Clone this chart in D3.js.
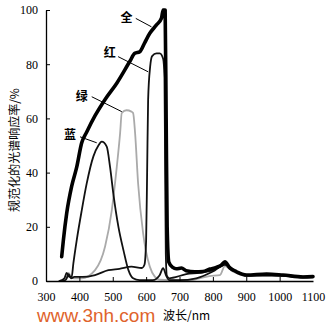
<!DOCTYPE html>
<html><head><meta charset="utf-8">
<script src="https://cdn.jsdelivr.net/npm/d3@7"></script>
<style>body{margin:0;background:#fff}svg{display:block}</style>
</head><body>
<svg id="c" width="332" height="327"></svg>
<script>
// Data
const xTicks = [300,400,500,600,700,800,900,1000,1100];
const yTicks = [0,20,40,60,80,100];

const allNm  = [347,352,362,377,392,407,422,447,477,512,551,566,581,596,611,631,646,651,657,660,663,668,680,690,706,720,746,770,791,810,825,836,850,871,901,961,1010,1070,1100];
const allVal = [9,15,25,35,42,51,55,61,67,73,81,84,84.6,88,91.4,94.5,97,100,100,60,20,7,5,4.5,4.8,3.8,3.4,3.5,4.4,5,5.8,7.1,5,3.4,2.2,2.6,2.2,1.5,1.6];

const redNm  = [350,360,368,375,385,410,447,487,520,556,587,595,600,603,606,612,618,631,641,651,655,657,659,662,670,680,720,760,800,825,836,850,880,900,960,1010,1070,1100];
const redVal = [0,0.5,2.5,1,1.5,1.5,2.2,4,4.5,5.3,4.8,6,15,40,67,79,83,84,84,82,75,40,10,2,1,1.2,2.5,3,4,5.5,6.5,4.5,3,2,2.3,2,1.3,1.4];

const blueNm  = [340,355,362,370,377,382,392,407,422,442,457,467,482,492,502,517,532,547,561,580,620,640,651,660,670,700,750,800,836,870,900,1000,1100];
const blueVal = [0,1,3,1.5,1.6,6.5,15,26,36,46,50,51.4,49.6,42,32,20,11.4,4,1,0.3,0.3,2,4.7,2,0.3,0.3,1,3.5,6,3.5,2,2,1.4];

const greenNm  = [340,360,368,375,385,407,447,477,497,512,522,527,541,556,561,567,576,591,611,626,640,700,731,760,790,821,836,860,900,1000,1100];
const greenVal = [0,1,3,1.5,1,1,4,12.7,26,42,54.5,62,63,62.5,62,54.5,36,17.6,5.3,1.6,0.5,0.3,0.3,1,1.8,2.2,5.5,3.5,2,2,1.4];

const seriesNames = ["全","红","绿","蓝"];
// annotation anchors in data units: label, leader start, leader end
const labelNm  = [541,491,407,372];
const labelVal = [97.5,84.6,68.6,54.6];
const leadFromNm  = [569,516,437,402];
const leadFromVal = [96.9,82.8,68,53.2];
const leadToNm  = [616,606,527,452];
const leadToVal = [93.8,77.2,62.5,51];

const svg = d3.select("#c");
const x = d3.scaleLinear().domain([300,1100]).range([46,313]);
const y = d3.scaleLinear().domain([0,100]).range([281,10]);

const serif = "'Liberation Serif','DejaVu Serif',serif";
const cjk = "'Noto Sans CJK SC','Noto Sans',sans-serif";

const zip = (a,b)=>a.map((v,i)=>[v,b[i]]);
const line = d3.line().x(d=>x(d[0])).y(d=>y(d[1])).curve(d3.curveMonotoneX);

const series = [
  {nm:greenNm, v:greenVal, color:"#aaaaaa", w:1.8},
  {nm:blueNm, v:blueVal, color:"#111", w:1.8},
  {nm:redNm, v:redVal, color:"#111", w:1.8},
  {nm:allNm, v:allVal, color:"#000", w:3.6}
];
svg.selectAll("path.s").data(series).join("path")
  .attr("class","s").attr("fill","none")
  .attr("stroke",d=>d.color).attr("stroke-width",d=>d.w)
  .attr("stroke-linejoin","round").attr("stroke-linecap","round")
  .attr("d",d=>line(zip(d.nm,d.v)));

// axes
const ya = svg.append("g").attr("transform",`translate(${x(300)},0)`)
  .call(d3.axisLeft(y).tickValues(yTicks).tickSize(-4).tickPadding(8).tickSizeOuter(0));
const xa = svg.append("g").attr("transform",`translate(0,${y(0)})`)
  .call(d3.axisBottom(x).tickValues(xTicks).tickFormat(d3.format("d")).tickSize(-4).tickPadding(11).tickSizeOuter(0));
[ya,xa].forEach(g=>{
  g.select(".domain").attr("stroke","#000").attr("stroke-width",1.3);
  g.selectAll(".tick line").attr("stroke","#000").attr("stroke-width",1);
  g.selectAll("text").attr("font-family",serif).attr("font-size",12).attr("fill","#000");
});
xa.selectAll(".tick").filter(d=>d===300||d===1100).select("line").remove();

// annotations
seriesNames.forEach((n,i)=>{
  svg.append("text").attr("x",x(labelNm[i])).attr("y",y(labelVal[i]))
    .attr("text-anchor","middle").attr("dominant-baseline","central")
    .attr("font-family",cjk).attr("font-weight","bold").attr("font-size",12).text(n);
  svg.append("line").attr("x1",x(leadFromNm[i])).attr("y1",y(leadFromVal[i]))
    .attr("x2",x(leadToNm[i])).attr("y2",y(leadToVal[i]))
    .attr("stroke","#000").attr("stroke-width",1);
});

// axis titles
svg.append("text").attr("transform","translate(13,150) rotate(-90)")
  .attr("text-anchor","middle").attr("dominant-baseline","central")
  .attr("font-family",cjk).attr("font-size",12).text("规范化的光谱响应率/%");
svg.append("text").attr("x",163).attr("y",320)
  .attr("font-family",cjk).attr("font-size",12).text("波长/nm");

// watermark
svg.append("text").attr("x",37).attr("y",322)
  .attr("font-family","'Liberation Sans',Arial,sans-serif").attr("font-size",19)
  .attr("fill","#e0632c").text("www.3nh.com");
</script>
</body></html>
